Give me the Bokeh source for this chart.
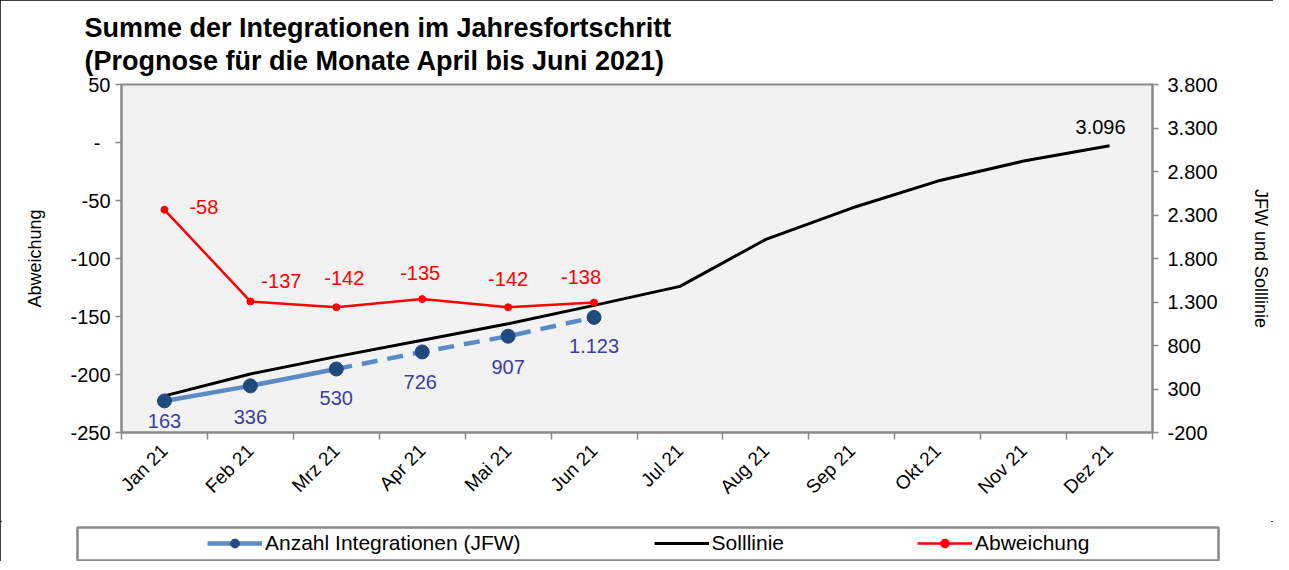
import math
from bokeh.plotting import figure
from bokeh.layouts import column
from bokeh.models import (Range1d, LinearAxis, FixedTicker, Legend, LegendItem, Title)
from bokeh.core.properties import value
from bokeh.embed import file_html
from bokeh.resources import INLINE

# ---------------- data ----------------
months = ["Jan 21", "Feb 21", "Mrz 21", "Apr 21", "Mai 21", "Jun 21",
          "Jul 21", "Aug 21", "Sep 21", "Okt 21", "Nov 21", "Dez 21"]
jfw_actual = [163, 336, 530]            # Jan - Mrz (Ist)
jfw_forecast = [530, 726, 907, 1123]    # Mrz - Jun (Prognose)
soll = [221, 473, 672, 861, 1049, 1261, 1480, 2020, 2380, 2690, 2920, 3096]
abweichung = [-58, -137, -142, -135, -142, -138]
left_ticks = [-250, -200, -150, -100, -50, 0, 50]
right_ticks = [-200, 300, 800, 1300, 1800, 2300, 2800, 3300, 3800]
title_lines = ["Summe der Integrationen im Jahresfortschritt",
               "(Prognose für die Monate April bis Juni 2021)"]

# label placement (layout only, screen pixels)
abw_label_dx = [25, 31, 8, -2, 0, -13]
abw_label_dy = [-3, -20, -29, -26, -28, -26]
jfw_label_dx = [0, 0, 0, -2, 0, 0]
jfw_label_dy = [20, 31, 29, 30, 31, 29]

FONT = "Liberation Sans"
GRAY = "#898989"
BLUE_LINE = "#5b8bc7"
BLUE_DOT = "#1f4a7c"
BLUE_TXT = "#3d3d9e"
RED = "#ff0000"

def de_num(v):
    return f"{v:,}".replace(",", ".")

xc = [i + 0.5 for i in range(len(months))]
jfw_all = jfw_actual + jfw_forecast[1:]

p = figure(width=1273, height=521, output_backend="svg", toolbar_location=None,
           x_range=Range1d(0, 12), y_range=Range1d(-250, 50),
           min_border_left=121, min_border_right=119, min_border_top=84,
           min_border_bottom=89)
p.frame_align = False
p.extra_y_ranges = {"right": Range1d(-200, 3800)}

p.background_fill_color = "#f2f2f2"
p.border_fill_color = "white"
p.outline_line_color = GRAY
p.outline_line_width = 2
p.xgrid.visible = False
p.ygrid.visible = False

# title (two lines)
p.add_layout(Title(text="\n".join(title_lines), align="left",
                   text_font=FONT, text_font_size="27px", text_font_style="bold",
                   text_line_height=1.1, text_color="black", offset=-37, standoff=17),
             "above")

# x axis
xa = p.xaxis[0]
xa.ticker = FixedTicker(ticks=xc, minor_ticks=list(range(13)))
xa.major_label_overrides = {x: m for x, m in zip(xc, months)}
xa.major_label_orientation = math.pi / 4
xa.major_tick_line_color = None
xa.minor_tick_line_color = GRAY
xa.minor_tick_line_width = 1.5
xa.minor_tick_in = 0
xa.minor_tick_out = 7
xa.axis_line_color = GRAY
xa.axis_line_width = 2
xa.major_label_text_font = FONT
xa.major_label_text_font_size = "19px"
xa.major_label_text_color = "black"
xa.major_label_standoff = 8

# left axis
ya = p.yaxis[0]
ya.ticker = FixedTicker(ticks=left_ticks)
ya.major_label_overrides = {t: ("-\u2002" if t == 0 else str(t)) for t in left_ticks}
ya.minor_tick_line_color = None
ya.major_tick_in = 0
ya.major_tick_out = 6
ya.major_tick_line_color = GRAY
ya.major_tick_line_width = 1.5
ya.axis_line_color = GRAY
ya.axis_line_width = 2
ya.major_label_text_font = FONT
ya.major_label_text_font_size = "20px"
ya.major_label_text_color = "black"
ya.axis_label = "Abweichung"
ya.axis_label_text_font = FONT
ya.axis_label_text_font_size = "18px"
ya.axis_label_text_font_style = "normal"
ya.axis_label_text_color = "black"
ya.axis_label_standoff = 22

# right axis
ra = LinearAxis(y_range_name="right", ticker=FixedTicker(ticks=right_ticks),
                major_label_overrides={t: de_num(t) for t in right_ticks})
ra.minor_tick_line_color = None
ra.major_tick_in = 0
ra.major_tick_out = 6
ra.major_tick_line_color = GRAY
ra.major_tick_line_width = 1.5
ra.axis_line_color = GRAY
ra.axis_line_width = 2
ra.major_label_text_font = FONT
ra.major_label_text_font_size = "20px"
ra.major_label_text_color = "black"
ra.major_label_standoff = 9
ra.axis_label = "JFW und Solllinie"
ra.axis_label_text_font = FONT
ra.axis_label_text_font_size = "18px"
ra.axis_label_text_font_style = "normal"
ra.axis_label_text_color = "black"
ra.axis_label_standoff = 30
p.add_layout(ra, "right")

# glyphs
soll_r = p.line(xc, soll, y_range_name="right", line_color="black", line_width=3)
jfw_solid = p.line(xc[:3], jfw_actual, y_range_name="right", line_color=BLUE_LINE, line_width=4.5)
jfw_dash = p.line(xc[2:6], jfw_forecast, y_range_name="right", line_color=BLUE_LINE,
                  line_width=4.5, line_dash="16 10")
jfw_pts = p.scatter(xc[:6], jfw_all, y_range_name="right", size=14,
                    fill_color=BLUE_DOT, line_color=BLUE_DOT)
abw_line = p.line(xc[:6], abweichung, line_color=RED, line_width=2.5)
abw_pts = p.scatter(xc[:6], abweichung, size=7, fill_color=RED, line_color=RED)

# data labels
for i, v in enumerate(abweichung):
    p.text([xc[i]], [v], text=[str(v)], x_offset=abw_label_dx[i], y_offset=abw_label_dy[i],
           text_align="left" if i == 0 else "center", text_baseline="middle",
           text_font=value(FONT), text_font_size="20px", text_color=RED)
for i, v in enumerate(jfw_all):
    p.text([xc[i]], [v], text=[de_num(v)], x_offset=jfw_label_dx[i], y_offset=jfw_label_dy[i],
           y_range_name="right", text_align="center", text_baseline="middle",
           text_font=value(FONT), text_font_size="20px", text_color=BLUE_TXT)
p.text([xc[-1]], [soll[-1]], text=[de_num(soll[-1])], x_offset=-9, y_offset=-19,
       y_range_name="right", text_align="center", text_baseline="middle",
       text_font=value(FONT), text_font_size="20px", text_color="black")

# ---------------- legend strip ----------------
lg = figure(width=1273, height=40, output_backend="svg", toolbar_location=None,
            x_range=Range1d(0, 1), y_range=Range1d(0, 1),
            x_axis_location=None, y_axis_location=None,
            min_border_left=77, min_border_right=55, min_border_top=6, min_border_bottom=1)
lg.frame_align = False
lg.xgrid.visible = False
lg.ygrid.visible = False
lg.background_fill_color = "white"
lg.border_fill_color = "white"
lg.outline_line_color = GRAY
lg.outline_line_width = 2.5

# legend sample renderers (placed outside the strip's visible range)
off = [-5, -4]
l_jfw = lg.line(off, off, line_color=BLUE_LINE, line_width=4.5)
m_jfw = lg.scatter(off, off, size=10, fill_color=BLUE_DOT, line_color=BLUE_DOT)
l_soll = lg.line(off, off, line_color="black", line_width=3)
l_abw = lg.line(off, off, line_color=RED, line_width=2.5)
m_abw = lg.scatter(off, off, size=6, fill_color=RED, line_color=RED)

legend = Legend(items=[
    LegendItem(label="Anzahl Integrationen (JFW)", renderers=[l_jfw, m_jfw], index=0),
    LegendItem(label="Solllinie", renderers=[l_soll], index=0),
    LegendItem(label="Abweichung", renderers=[l_abw, m_abw], index=0),
], orientation="horizontal", location=(130, 5), spacing=133, padding=0, margin=0,
    glyph_width=55, glyph_height=22, label_standoff=3,
    label_text_font=FONT, label_text_font_size="21px", label_text_color="black",
    border_line_color=None, background_fill_alpha=0)
lg.add_layout(legend)

layout = column(p, lg, spacing=0)
layout.styles = {"outline": "2px solid black", "outline-offset": "-2px"}

open("out.html", "w").write(file_html(layout, INLINE))
